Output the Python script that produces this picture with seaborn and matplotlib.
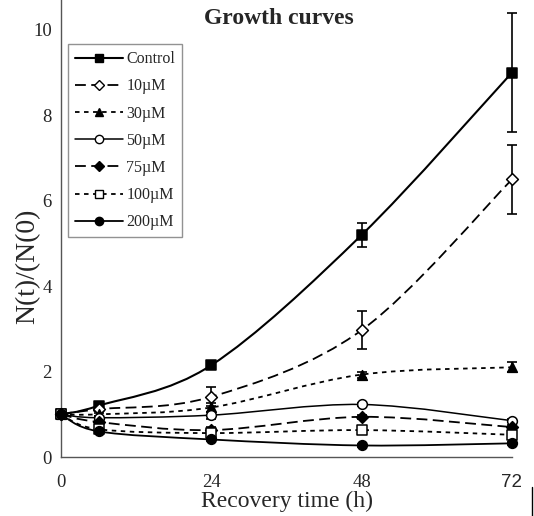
import numpy as np
import pandas as pd
import matplotlib
matplotlib.use("Agg")
import matplotlib.pyplot as plt
import seaborn as sns
from matplotlib.path import Path
from matplotlib.patches import PathPatch
from matplotlib.lines import Line2D

# ---- data ----
hours = [0, 6, 24, 48, 72]
series_names = ["Control", "10µM", "30µM", "50µM", "75µM", "100µM", "200µM"]
control = [1.0, 1.20, 2.15, 5.20, 9.00]
um10 = [1.0, 1.12, 1.41, 2.97, 6.50]
um30 = [1.0, 1.00, 1.16, 1.93, 2.10]
um50 = [1.0, 0.92, 0.98, 1.23, 0.85]
um75 = [1.0, 0.82, 0.63, 0.94, 0.70]
um100 = [1.0, 0.65, 0.56, 0.63, 0.52]
um200 = [1.0, 0.60, 0.41, 0.27, 0.32]
err_control = [0, 0.04, 0.06, 0.28, 1.40]
err_um10 = [0, 0.04, 0.22, 0.45, 0.80]
err_um30 = [0, 0.04, 0.10, 0.07, 0.12]
err_um50 = [0, 0.03, 0.08, 0.03, 0.04]
err_um75 = [0, 0.03, 0.08, 0.04, 0.04]
err_um100 = [0, 0.03, 0.05, 0.03, 0.04]
err_um200 = [0, 0.03, 0.04, 0.03, 0.03]
x_ticks = [0, 24, 48, 72]
y_ticks = [0, 2, 4, 6, 8, 10]

values = [control, um10, um30, um50, um75, um100, um200]
errors = [err_control, err_um10, err_um30, err_um50, err_um75, err_um100, err_um200]

# styles
markers = ["s", "D", "^", "o", "D", "s", "o"]
filled = [True, False, True, False, True, False, True]
msizes = [7, 6, 7, 7, 6, 7, 7]
lstyles = ["-", (0, (6, 3)), (0, (2.5, 2.5)), "-", (0, (6, 3)), (0, (2.5, 2.5)), "-"]
lwidths = [1.5, 1.3, 1.3, 1.1, 1.3, 1.3, 1.3]

rows = []
for name, v, e in zip(series_names, values, errors):
    for h, y, ee in zip(hours, v, e):
        rows.append({"series": name, "hours": h, "value": y, "err": ee})
df = pd.DataFrame(rows)

sns.set_style("white")
plt.rcParams["font.family"] = ["Liberation Serif", "DejaVu Serif"]

fig = plt.figure(figsize=(5.34, 5.16), dpi=100)
ax = fig.add_axes([61 / 534, 59 / 516, 451 / 534, 457 / 516])
ax.set_xlim(0, 72)
ax.set_ylim(0, 10.7)


def smooth_path(xs, ys):
    xs = np.asarray(xs, float)
    ys = np.asarray(ys, float)
    n = len(xs)
    verts = [(xs[0], ys[0])]
    codes = [Path.MOVETO]
    for i in range(n - 1):
        i0 = max(i - 1, 0)
        i3 = min(i + 2, n - 1)
        c1 = (xs[i] + (xs[i + 1] - xs[i0]) / 6.0, ys[i] + (ys[i + 1] - ys[i0]) / 6.0)
        c2 = (xs[i + 1] - (xs[i3] - xs[i]) / 6.0, ys[i + 1] - (ys[i3] - ys[i]) / 6.0)
        verts += [c1, c2, (xs[i + 1], ys[i + 1])]
        codes += [Path.CURVE4, Path.CURVE4, Path.CURVE4]
    return Path(verts, codes)


for k, name in enumerate(series_names):
    sub = df[df["series"] == name]
    p = smooth_path(sub["hours"], sub["value"])
    ax.add_patch(PathPatch(p, facecolor="none", edgecolor="black",
                           lw=lwidths[k], linestyle=lstyles[k], zorder=2))
    eb = ax.errorbar(sub["hours"], sub["value"], yerr=sub["err"], fmt="none",
                     ecolor="black", elinewidth=1.2, capsize=3.6, capthick=1.2, zorder=3)
    for art in eb.lines[1] + eb.lines[2]:
        art.set_clip_on(False)
    sns.scatterplot(x=sub["hours"], y=sub["value"], ax=ax, marker=markers[k],
                    s=msizes[k] ** 2, color="black",
                    facecolor="black" if filled[k] else "white",
                    edgecolor="black", linewidth=1.1, zorder=4, legend=False,
                    clip_on=False)

ax.set_xlabel("")
ax.set_ylabel("")
for side in ["top", "right"]:
    ax.spines[side].set_visible(False)
for side in ["left", "bottom"]:
    ax.spines[side].set_color("#555555")
    ax.spines[side].set_linewidth(1.0)

ax.set_xticks(x_ticks)
ax.set_yticks(y_ticks)
ax.set_xticklabels([str(t) for t in x_ticks])
ax.set_yticklabels([str(t) for t in y_ticks])
ax.tick_params(axis="both", direction="inout", length=9, width=1.0, color="#555555",
               labelsize=13.5)
ax.tick_params(axis="x", pad=8)
ax.tick_params(axis="y", pad=2)
ax.get_xticklabels()[-1].set_family(["Liberation Sans", "DejaVu Sans"])

ax.set_xlabel("Recovery time (h)", fontsize=17)
ax.xaxis.set_label_coords(0.502, -0.073)
ax.set_ylabel("N(t)/(N(0)", fontsize=20)
ax.yaxis.set_label_coords(-0.046, 0.418)

fig.text(278.7 / 534, 1 - 18 / 516, "Growth curves", ha="center", va="center",
         fontsize=17, fontweight="bold")

handles = []
for k, name in enumerate(series_names):
    handles.append(Line2D([0], [0], color="black", lw=lwidths[k], linestyle=lstyles[k],
                          marker=markers[k], markersize=msizes[k] - 1,
                          markerfacecolor="black" if filled[k] else "white",
                          markeredgecolor="black"))
leg = ax.legend(handles, series_names, loc="upper left",
                bbox_to_anchor=(7 / 451, (457 - 44) / 457), borderaxespad=0,
                frameon=True, fancybox=False, edgecolor="#777777", fontsize=11.5,
                handlelength=3.0, handletextpad=0.2, labelspacing=0.7,
                borderpad=0.45, numpoints=1)
leg.get_frame().set_linewidth(1.0)

fig.add_artist(Line2D([532 / 534, 532 / 534], [0, 1 - 487 / 516], color="black", lw=1.0))

fig.savefig("out.png", dpi=100)
